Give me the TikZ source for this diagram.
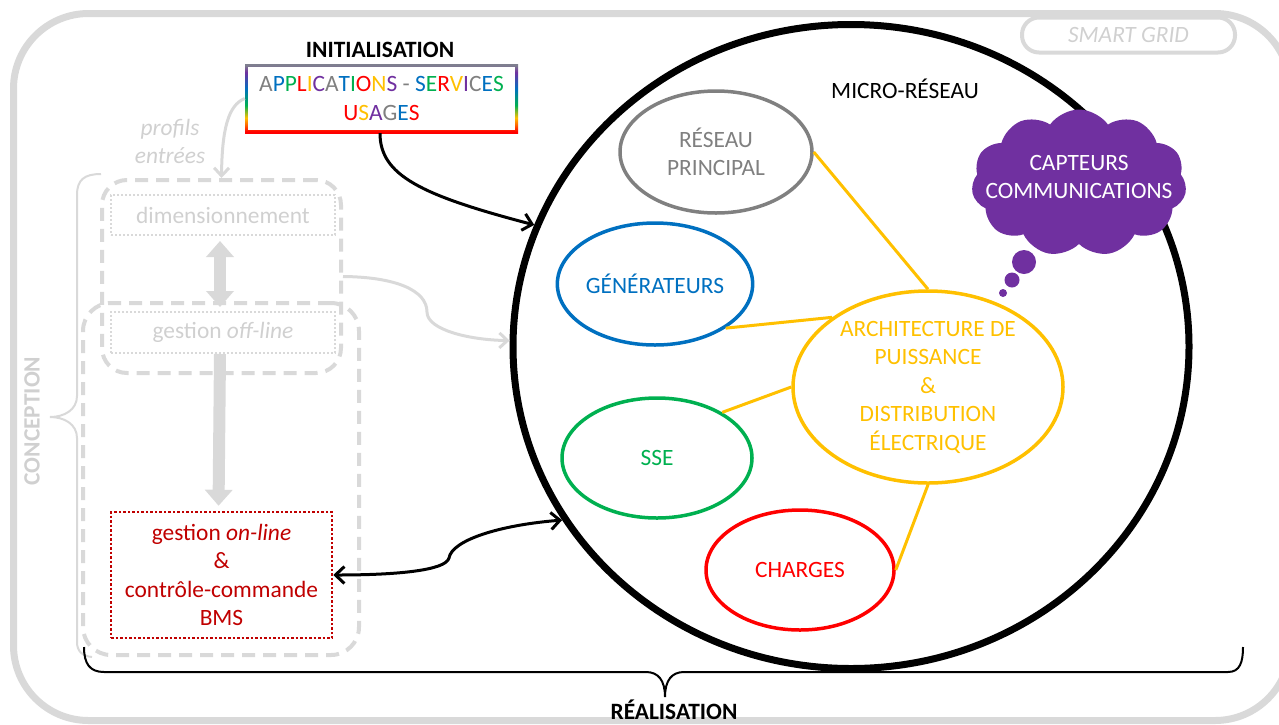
\documentclass[tikz,border=0pt]{standalone}
\usepackage{fontspec}
\setmainfont{Carlito}
\usetikzlibrary{arrows.meta,shapes.geometric,shapes.symbols}
\definecolor{lg}{HTML}{D9D9D9}
\definecolor{lgt}{HTML}{D0D0D0}
\definecolor{cgray}{HTML}{808080}
\definecolor{cblue}{HTML}{0070C0}
\definecolor{cgreen}{HTML}{00B050}
\definecolor{cred}{HTML}{FF0000}
\definecolor{cyel}{HTML}{FFC000}
\definecolor{cpur}{HTML}{7030A0}
\definecolor{dred}{HTML}{C00000}
\definecolor{corange}{HTML}{FF6600}
\definecolor{ctop}{HTML}{7F7F8F}
\pgfdeclareverticalshading{rainbowsh}{100bp}{color(0bp)=(cred); color(26bp)=(cred); color(31bp)=(corange); color(36bp)=(cyel); color(45bp)=(cgreen); color(57bp)=(cblue); color(69bp)=(cpur); color(74bp)=(ctop); color(100bp)=(ctop)}
\newcommand\fsz{\fontsize{23.4}{28.5}\selectfont}
\newcommand\cl[2]{\textcolor{#1}{#2}}
\tikzset{
  every node/.style={font=\fsz, inner sep=0pt},
  elli/.style={ellipse, draw, line width=3.5pt, inner sep=0pt, align=center},
  dashbox/.style={draw=lg, line width=4pt, dash pattern=on 13pt off 8pt, rounded corners=28pt},
  dotbox/.style={draw=lg, line width=2pt, dash pattern=on 2pt off 2pt},
  blkarrow/.style={draw=black, line width=3pt, -{Straight Barb[length=9pt,width=17pt]}},
  blkdouble/.style={draw=black, line width=3pt, {Straight Barb[length=9pt,width=17pt]}-{Straight Barb[length=9pt,width=17pt]}},
  greyarrow/.style={draw=lg, line width=3pt, -{Straight Barb[length=8pt,width=15pt]}},
  fatarrow/.style={draw=lg, line width=12pt, -{Triangle[width=27pt,length=16pt]}},
  fatdouble/.style={draw=lg, line width=12pt, {Triangle[width=27pt,length=16pt]}-{Triangle[width=27pt,length=16pt]}},
  yl/.style={draw=cyel, line width=3pt},
}
\begin{document}
\begin{tikzpicture}[x=1pt,y=-1pt]
\useasboundingbox (0,0) rectangle (1279,724);
% outer frame
\draw[lg, line width=7pt, rounded corners=75pt] (13.5,13.5) rectangle (1290,720.5);
\node[draw=lg, line width=4pt, rounded corners=17pt, minimum width=213pt, minimum height=35pt, font=\fsz\itshape, text=lgt] (sg) at (1128.5,35) {SMART GRID};

% conception side
\node[dashbox, minimum width=276pt, minimum height=352pt] (lower) at (221,479) {};
\node[dashbox, rounded corners=25pt, minimum width=239pt, minimum height=193pt] (upper) at (221.5,276.5) {};
\node[dotbox, minimum width=224pt, minimum height=40pt, text=lgt] (dim) at (223,215) {dimensionnement};
\node[dotbox, minimum width=224pt, minimum height=41pt, text=lgt] (off) at (223,332.5) {gestion \textit{off-line}};
\node[draw=dred, line width=2.5pt, dash pattern=on 2.5pt off 2pt, minimum width=221pt, minimum height=126pt, text=dred, align=center] (red) at (221.5,575) {gestion \textit{on-line}\\\&\\contrôle-commande\\BMS};
\draw[fatdouble, shorten <=5pt, shorten >=4pt] ([xshift=-3pt]dim.south) -- ([xshift=-3pt]off.north);
\draw[fatarrow, shorten >=5pt] ([xshift=-3pt]off.south) -- ([xshift=-3pt]red.north);

\node[rotate=90, font=\fsz\bfseries, text=lgt] (conc) at (32,421) {CONCEPTION};
\draw[lg, line width=2pt] (101,174) .. controls (84,174) and (77,180) .. (77,195) -- (77,396) .. controls (77,410) and (64,417) .. (50,417) .. controls (64,417) and (77,424) .. (77,438) -- (77,642) .. controls (77,651) and (82,656) .. (92,657);

% initialisation
\node[font=\fsz\bfseries] (init) at (380,50) {INITIALISATION};
\node[minimum width=273pt, minimum height=69pt, align=center, shading=rainbowsh, shade,
  path picture={\fill[white] ([xshift=3pt,yshift=-3pt]path picture bounding box.north west) rectangle ([xshift=-3pt,yshift=3pt]path picture bounding box.south east);}] (app) at (381.5,98.5)
  {\cl{cgray}{A}\cl{cblue}{P}\cl{cgreen}{P}\cl{cred}{L}\cl{cyel}{I}\cl{cpur}{C}\cl{cgray}{A}\cl{cblue}{T}\cl{cgreen}{I}\cl{cred}{O}\cl{cyel}{N}\cl{cpur}{S} \cl{cgray}{-} \cl{cblue}{S}\cl{cgreen}{E}\cl{cred}{R}\cl{cyel}{V}\cl{cpur}{I}\cl{cgray}{C}\cl{cblue}{E}\cl{cgreen}{S}\\
   \cl{cred}{U}\cl{cyel}{S}\cl{cpur}{A}\cl{cgray}{G}\cl{cblue}{E}\cl{cred}{S}};
\node[font=\fsz\itshape, text=lgt, align=center] (prof) at (170,141.5) {profils\\entrées};

% micro-reseau
\node[ellipse, draw, line width=7pt, minimum width=676pt, minimum height=644pt, inner sep=0pt] (micro) at (851,346.5) {};
\node (mr) at (905,89) {MICRO-RÉSEAU};
\node[elli, draw=cgray, text=cgray, minimum width=192pt, minimum height=122pt] (res) at (716,152) {RÉSEAU\\PRINCIPAL};
\node[elli, draw=cblue, text=cblue, minimum width=192pt, minimum height=122pt] (gen) at (655,284) {GÉNÉRATEURS};
\node[elli, draw=cgreen, text=cgreen, minimum width=190pt, minimum height=120pt] (sse) at (657,458) {SSE};
\node[elli, draw=cred, text=cred, minimum width=188pt, minimum height=120pt] (chg) at (800,570) {CHARGES};
\node[elli, draw=cyel, text=cyel, minimum width=270pt, minimum height=192pt] (arch) at (928,387) {ARCHITECTURE DE\\PUISSANCE\\\&\\DISTRIBUTION\\ÉLECTRIQUE};
\draw[yl] (res.east) -- (arch.north);
\draw[yl] (gen.-32.7) -- (arch.144);
\draw[yl] (sse.35) -- (arch.180);
\draw[yl] (chg.east) -- (arch.south);

% cloud
\node[cloud, cloud puffs=11, cloud puff arc=110, aspect=1.5, fill=cpur, minimum width=215pt, minimum height=147pt] (cloud) at (1079,183) {};
\node[text=white, align=center] (cloudtxt) at ([yshift=6pt]cloud.center) {CAPTEURS\\COMMUNICATIONS};
\fill[cpur] (1024,262) circle (12pt);
\fill[cpur] (1012,280) circle (7.5pt);
\fill[cpur] (1003,293) circle (4pt);

% connectors
\draw[blkarrow] ([xshift=-1.5pt]app.south) .. controls (380,175) and (420,195) .. (micro.159.6);
\draw[greyarrow] (app.west) .. controls (228,105) and (222,130) .. (upper.north);
\draw[greyarrow] (upper.east) .. controls (395,277) and (427,290) .. (427,312) .. controls (427,330) and (470,340) .. (micro.179);
\draw[blkdouble] (red.east) .. controls (400,575) and (446,570) .. (449,558) .. controls (452,540) and (500,525) .. (micro.211.6);

% realisation
\draw[line width=2pt] (84,647) .. controls (84,664) and (90,672) .. (104,672) -- (646,672) .. controls (658,672) and (665,680) .. (665,697) .. controls (665,680) and (672,672) .. (684,672) -- (1228,672) .. controls (1240,672) and (1243,662) .. (1243,647);
\node[font=\fsz\bfseries, anchor=base] (real) at (674,719.5) {RÉALISATION};
\end{tikzpicture}
\end{document}
